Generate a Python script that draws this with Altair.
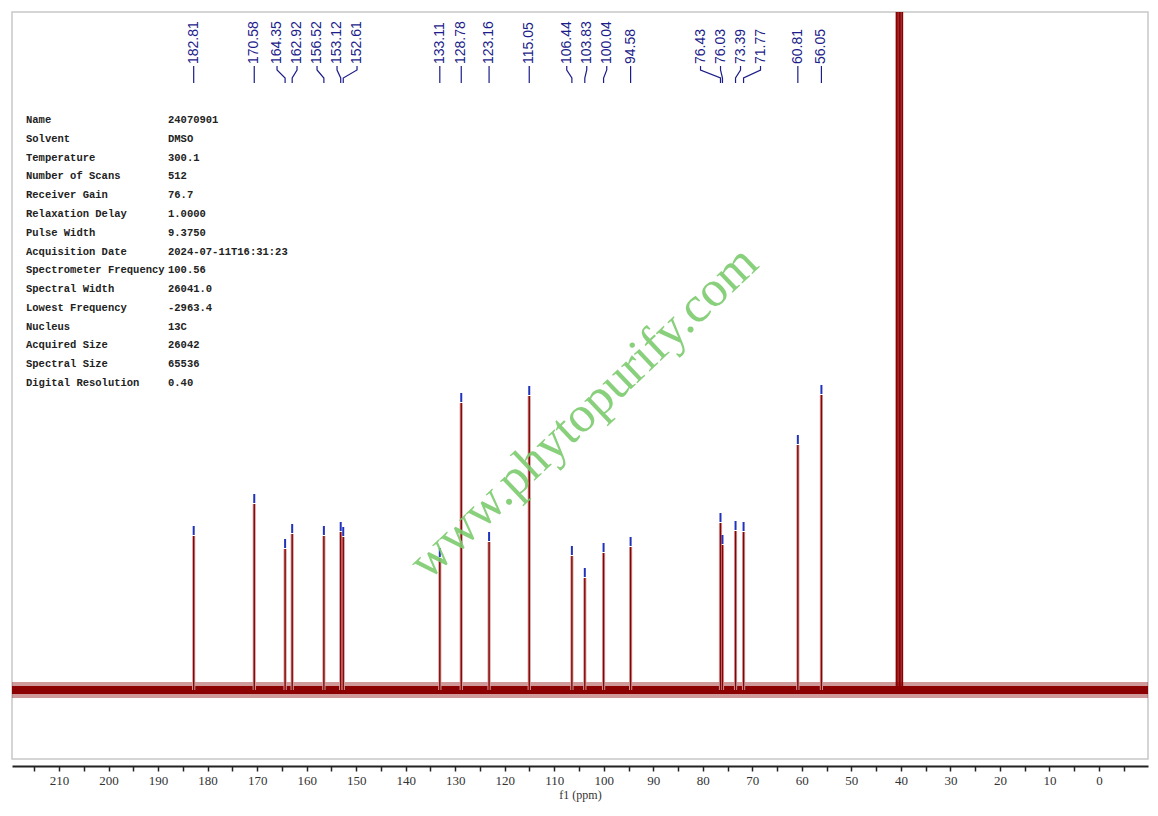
import altair as alt
import pandas as pd

# ---------------- data ----------------
peak_ppm = [182.81, 170.58, 164.35, 162.92, 156.52, 153.12, 152.61,
            133.11, 128.78, 123.16, 115.05, 106.44, 103.83, 100.04, 94.58,
            76.43, 76.03, 73.39, 71.77, 60.81, 56.05]
peak_height = [154, 186, 141, 156, 154, 158, 153,
               132, 287, 148, 294, 134, 112, 137, 143,
               167, 145, 159, 158, 245, 295]

solvent_ppm = [40.9, 40.6, 40.3, 40.0, 39.7]
solvent_height = [700, 2000, 2000, 2000, 700]

info_names = ["Name", "Solvent", "Temperature", "Number of Scans", "Receiver Gain",
              "Relaxation Delay", "Pulse Width", "Acquisition Date",
              "Spectrometer Frequency", "Spectral Width", "Lowest Frequency",
              "Nucleus", "Acquired Size", "Spectral Size", "Digital Resolution"]
info_values = ["24070901", "DMSO", "300.1", "512", "76.7", "1.0000", "9.3750",
               "2024-07-11T16:31:23", "100.56", "26041.0", "-2963.4", "13C",
               "26042", "65536", "0.40"]

x_min, x_max = -9.9, 219.5
y_min, y_max = -69, 678
noise_core = 4
noise_outer = 8

W, H = 1136, 747
px_per_ppm = W / (x_max - x_min)

# ---------------- label spreading ----------------
def spread(ppms, gap_px):
    gap = gap_px / px_per_ppm
    order = sorted(range(len(ppms)), key=lambda i: -ppms[i])
    clusters = []
    for i in order:
        clusters.append([i])
        while len(clusters) > 1:
            c, p = clusters[-1], clusters[-2]
            cm = sum(-ppms[j] for j in c) / len(c)
            pm = sum(-ppms[j] for j in p) / len(p)
            c_start = cm - (len(c) - 1) * gap / 2
            p_end = pm + (len(p) - 1) * gap / 2
            if c_start - p_end < gap:
                clusters[-2] = p + c
                clusters.pop()
            else:
                break
    pos = [0.0] * len(ppms)
    for c in clusters:
        m = sum(-ppms[j] for j in c) / len(c)
        for k, j in enumerate(c):
            pos[j] = -(m - (len(c) - 1) * gap / 2 + k * gap)
    return pos

label_ppm = spread(peak_ppm, 20)

peaks = pd.DataFrame({"ppm": peak_ppm, "h": peak_height,
                      "h0": [0] * len(peak_ppm),
                      "m1": [v + 1 for v in peak_height],
                      "m2": [v + 10 for v in peak_height]})
solvent = pd.DataFrame({"ppm": solvent_ppm, "h": solvent_height,
                        "h0": [0] * len(solvent_ppm)})
labels = pd.DataFrame({"ppm": label_ppm,
                       "txt": [f"{p:.2f}" for p in peak_ppm],
                       "h": [626] * len(peak_ppm)})
conn_rows = []
for i, (lp, pp) in enumerate(zip(label_ppm, peak_ppm)):
    for k, (xx, yy) in enumerate([(lp, 624), (lp, 620), (pp, 612), (pp, 607)]):
        conn_rows.append({"id": i, "k": k, "ppm": xx, "h": yy})
conn = pd.DataFrame(conn_rows)
band = pd.DataFrame({"ppm": [x_max], "ppm2": [x_min],
                     "h": [-noise_core], "h2": [noise_core]})
band_outer = pd.DataFrame({"ppm": [x_max], "ppm2": [x_min],
                           "h": [-noise_outer], "h2": [noise_outer]})
one = pd.DataFrame({"a": [0]})

# ---------------- encodings ----------------
xscale = alt.Scale(domain=[x_min, x_max], reverse=True, nice=False, zero=False)
yscale = alt.Scale(domain=[y_min, y_max], nice=False, zero=False)
xaxis = alt.Axis(
    values=list(range(-5, 220, 5)),
    labelExpr="datum.value % 10 === 0 ? datum.label : ''",
    offset=7, tickSize=5, tickWidth=1.5, tickColor="#222",
    domainWidth=2, domainColor="#222", grid=False,
    labelFont="Liberation Serif", labelFontSize=13, labelColor="#333",
    labelPadding=3, title="f1 (ppm)", titleFont="Liberation Serif",
    titleFontSize=12, titleFontWeight="normal", titleColor="#333",
    titlePadding=2)


def X(f="ppm"):
    return alt.X(f"{f}:Q", scale=xscale, axis=xaxis)


def Y(f="h"):
    return alt.Y(f"{f}:Q", scale=yscale, axis=None)


red = "#8b0000"

noise_o = alt.Chart(band_outer).mark_rect(color="#9a2020", opacity=0.45).encode(
    x=X(), x2="ppm2:Q", y=Y(), y2="h2:Q")
noise = alt.Chart(band).mark_rect(color=red).encode(
    x=X(), x2="ppm2:Q", y=Y(), y2="h2:Q")

halo = alt.Chart(peaks).mark_rule(color="#cfa3a3", strokeWidth=3.2).encode(
    x=X(), y=Y("h0"), y2="h:Q")
core = alt.Chart(peaks).mark_rule(color=red, strokeWidth=1.4).encode(
    x=X(), y=Y("h0"), y2="h:Q")
solv = alt.Chart(solvent).mark_rule(color=red, strokeWidth=1.6, clip=True).encode(
    x=X(), y=Y("h0"), y2="h:Q")
marker = alt.Chart(peaks).mark_rule(color="#2233bb", strokeWidth=2).encode(
    x=X(), y=Y("m1"), y2="m2:Q")

connectors = alt.Chart(conn).mark_line(color="#1c1c8a", strokeWidth=1.2).encode(
    x=X(), y=Y(), detail="id:N", order="k:Q")
label_text = alt.Chart(labels).mark_text(
    angle=270, align="left", baseline="middle", font="Liberation Sans",
    fontSize=14, color="#1c1c8a").encode(x=X(), y=Y(), text="txt:N")

info_left = alt.Chart(one).mark_text(
    align="left", baseline="top", font="Liberation Mono", fontSize=10.5,
    fontWeight="bold", lineHeight=18.79, color="#222").encode(
    x=alt.value(14), y=alt.value(103), text=alt.value(info_names))
info_right = alt.Chart(one).mark_text(
    align="left", baseline="top", font="Liberation Mono", fontSize=10.5,
    fontWeight="bold", lineHeight=18.79, color="#222").encode(
    x=alt.value(156), y=alt.value(103), text=alt.value(info_values))

watermark = alt.Chart(one).mark_text(
    angle=316.5, align="center", baseline="middle", font="Liberation Serif",
    fontSize=51, color="#7ccb6e", opacity=0.9).encode(
    x=alt.value(572), y=alt.value(401), text=alt.value("www.phytopurify.com"))

chart = alt.layer(
    noise_o, noise, halo, core, solv, marker, connectors, label_text,
    info_left, info_right, watermark
).properties(
    width=W, height=H,
    padding={"left": 4, "top": 4, "right": 2, "bottom": 46},
    autosize=alt.AutoSizeParams(type="none"),
    background="white"
).configure_view(stroke="#c8c8c8", strokeWidth=1.5)

chart.save("out.html", embed_options={"renderer": "svg", "actions": False})
